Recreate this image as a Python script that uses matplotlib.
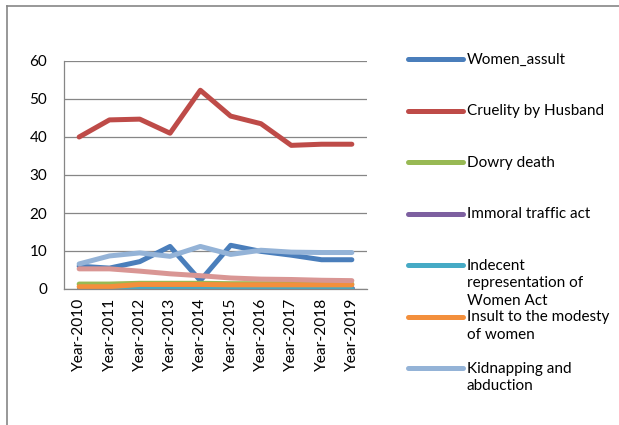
import matplotlib.pyplot as plt
from matplotlib.lines import Line2D

years = ["Year-2010", "Year-2011", "Year-2012", "Year-2013", "Year-2014",
         "Year-2015", "Year-2016", "Year-2017", "Year-2018", "Year-2019"]

women_assult = [6.0, 5.5, 7.2, 11.2, 2.2, 11.5, 9.9, 8.9, 7.7, 7.7]
cruelity_by_husband = [40.0, 44.5, 44.7, 41.0, 52.3, 45.5, 43.5, 37.8, 38.1, 38.1]
dowry_death = [1.3, 1.3, 1.5, 1.5, 1.5, 1.4, 1.4, 1.4, 1.3, 1.3]
immoral_traffic = [0.3, 0.3, 0.3, 0.3, 0.3, 0.3, 0.3, 0.3, 0.3, 0.3]
indecent_repr = [0.1, 0.1, 0.1, 0.1, 0.1, 0.1, 0.1, 0.1, 0.1, 0.1]
insult_modesty = [0.6, 0.6, 1.2, 1.2, 1.2, 1.1, 1.1, 1.1, 1.1, 1.1]
kidnapping = [6.6, 8.7, 9.5, 8.6, 11.2, 9.1, 10.2, 9.7, 9.6, 9.6]
other_crimes = [5.3, 5.3, 4.7, 4.0, 3.5, 2.9, 2.6, 2.5, 2.3, 2.2]

series = [
    ("Women_assult", women_assult, "#4A7EBB"),
    ("Cruelity by Husband", cruelity_by_husband, "#BE4B48"),
    ("Dowry death", dowry_death, "#98B954"),
    ("Immoral traffic act", immoral_traffic, "#7D60A0"),
    ("Indecent\nrepresentation of\nWomen Act", indecent_repr, "#46AAC5"),
    ("Insult to the modesty\nof women", insult_modesty, "#F38F3C"),
    ("Kidnapping and\nabduction", kidnapping, "#94B3D7"),
    (None, other_crimes, "#D99694"),
]

plt.rcParams['font.family'] = ['Lato', 'DejaVu Sans']
W, H = 619, 425
fig = plt.figure(figsize=(W / 100, H / 100), dpi=100)
ax = fig.add_axes([64 / W, 1 - 289 / H, 303 / W, 228 / H])

x = range(len(years))
for name, vals, col in series:
    ax.plot(x, vals, color=col, lw=3.6, solid_capstyle='round',
            solid_joinstyle='round')

ax.set_xlim(-0.5, len(years) - 0.5)
ax.set_ylim(0, 60)
ax.set_yticks(range(0, 61, 10))
ax.set_xticks(list(x))
ax.set_xticklabels(years, rotation=90, fontsize=11.2)
ax.tick_params(axis='y', labelsize=11, length=0, pad=12)
ax.tick_params(axis='x', length=0, pad=6)
ax.grid(axis='y', color='#868686', lw=0.9)
ax.set_axisbelow(True)
for s in ['top', 'right']:
    ax.spines[s].set_visible(False)
for s in ['left', 'bottom']:
    ax.spines[s].set_color('#868686')
    ax.spines[s].set_linewidth(0.9)

# legend drawn by hand to mimic the spreadsheet layout
for i, (name, vals, col) in enumerate(series):
    if name is None:
        continue
    yl = 1 - (59 + i * 51.5) / H
    fig.add_artist(Line2D([408 / W, 463 / W], [yl, yl], color=col, lw=3.6,
                          solid_capstyle='round', transform=fig.transFigure))
    fig.text(467 / W, yl + 6 / H, name, fontsize=11, va='top', ha='left',
             linespacing=1.3)

# outer chart frame
fig.add_artist(Line2D([7 / W, 7 / W], [0, 1 - 6 / H], color='#868686', lw=1.2,
                      transform=fig.transFigure))
fig.add_artist(Line2D([7 / W, 1], [1 - 6 / H, 1 - 6 / H], color='#868686', lw=1.2,
                      transform=fig.transFigure))

fig.savefig("out.png", dpi=100)
